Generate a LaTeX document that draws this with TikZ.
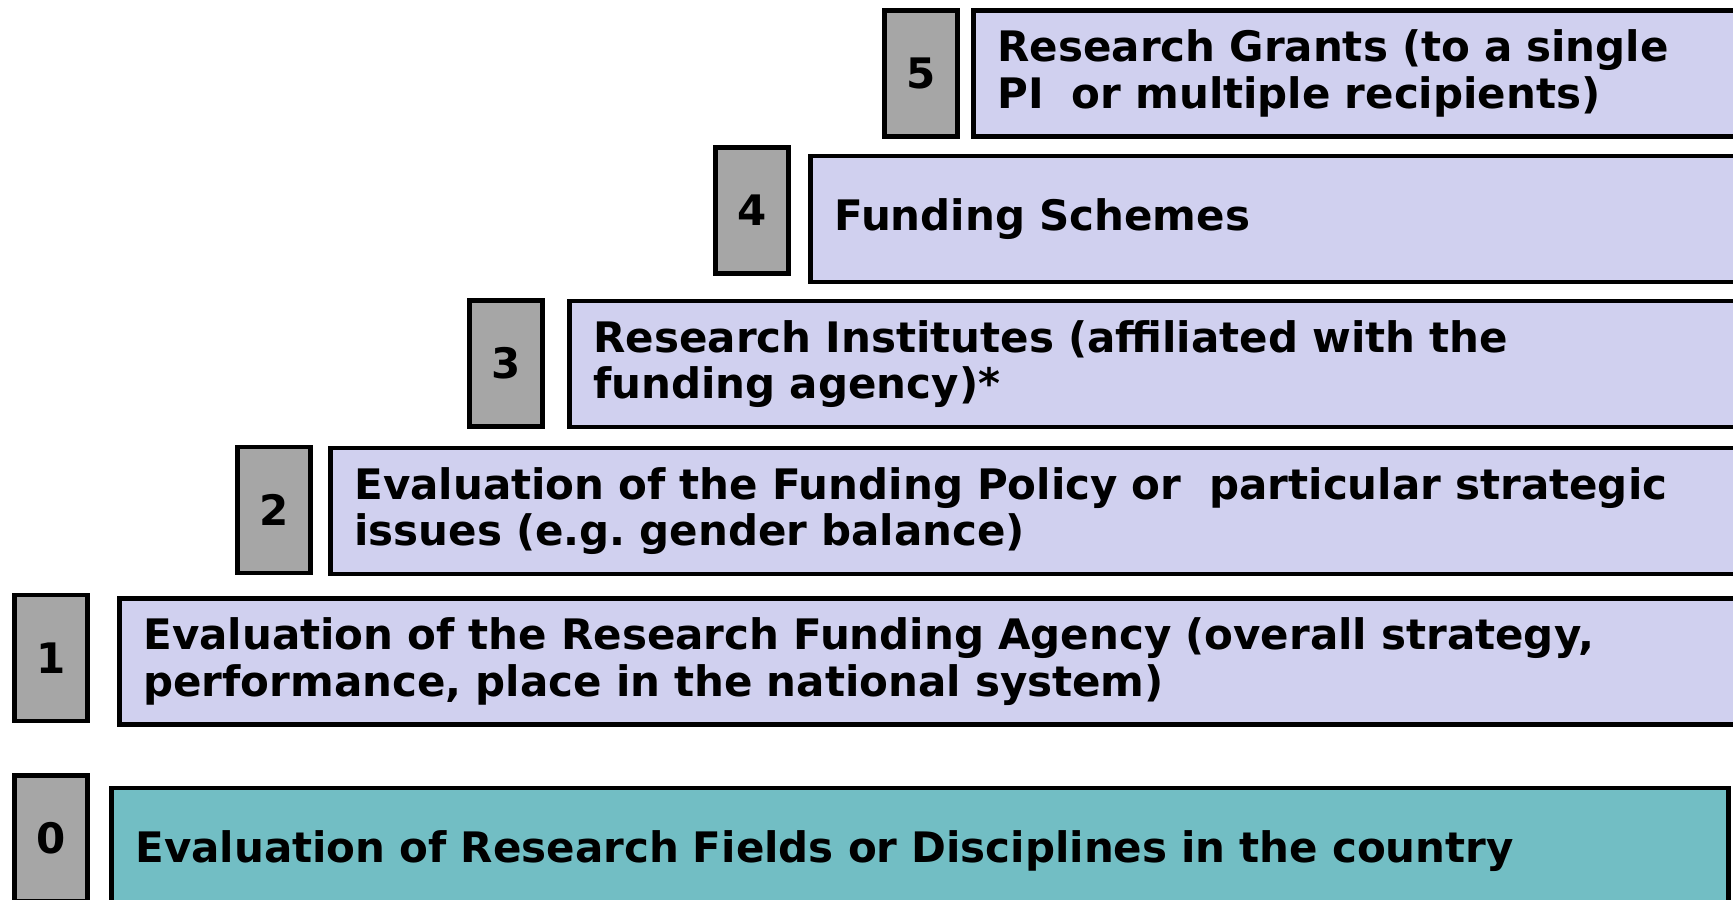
\documentclass[tikz,border=0pt]{standalone}
\usepackage{fontspec}
\setmainfont{DejaVu Sans}
\definecolor{numgray}{HTML}{A6A6A6}
\definecolor{lavender}{HTML}{D0D0EF}
\definecolor{teal0}{HTML}{72BEC4}
\tikzset{
  numbox/.style={draw, line width=2.4pt, fill=numgray, minimum width=36.5pt,
    minimum height=63pt, inner sep=0pt},
  levelbox/.style={draw, line width=2.4pt, fill=lavender, anchor=west,
    minimum height=63pt, align=left, inner xsep=12pt, inner ysep=0pt}
}
\begin{document}
\begin{tikzpicture}[x=0.5pt,y=-0.5pt,font=\fontsize{21}{23.2}\selectfont\bfseries]
  \useasboundingbox (0,0) rectangle (1733,899);
  \clip (0,0) rectangle (1733,899);

  \begin{scope}[every node/.style={numbox}]
    \node (n5) at (921,73.5)  {5};
    \node (n4) at (752,210.5) {4};
    \node (n3) at (506,363.5) {3};
    \node (n2) at (274,510)   {2};
    \node (n1) at (51,658)    {1};
    \node (n0) at (51,838.5)  {0};
  \end{scope}

  \begin{scope}[every node/.style={levelbox}]
    \node[text width=370pt] (l5) at (971,73.5)
      {Research Grants (to a single\\PI\ \ or multiple recipients)};
    \node[text width=452pt] (l4) at (808,219) {Funding Schemes};
    \node[text width=572pt] (l3) at (567,364)
      {Research Institutes (affiliated with the\\funding agency)*};
    \node[text width=692pt] (l2) at (328,511)
      {Evaluation of the Funding Policy or\ \ particular strategic\\issues (e.g.\ gender balance)};
    \node[text width=797pt] (l1) at (117,661.5)
      {Evaluation of the Research Funding Agency (overall strategy,\\performance, place in the national system)};
    \node[text width=784.5pt, fill=teal0] (l0) at (109,851)
      {Evaluation of Research Fields or Disciplines in the country};
  \end{scope}

\end{tikzpicture}
\end{document}
